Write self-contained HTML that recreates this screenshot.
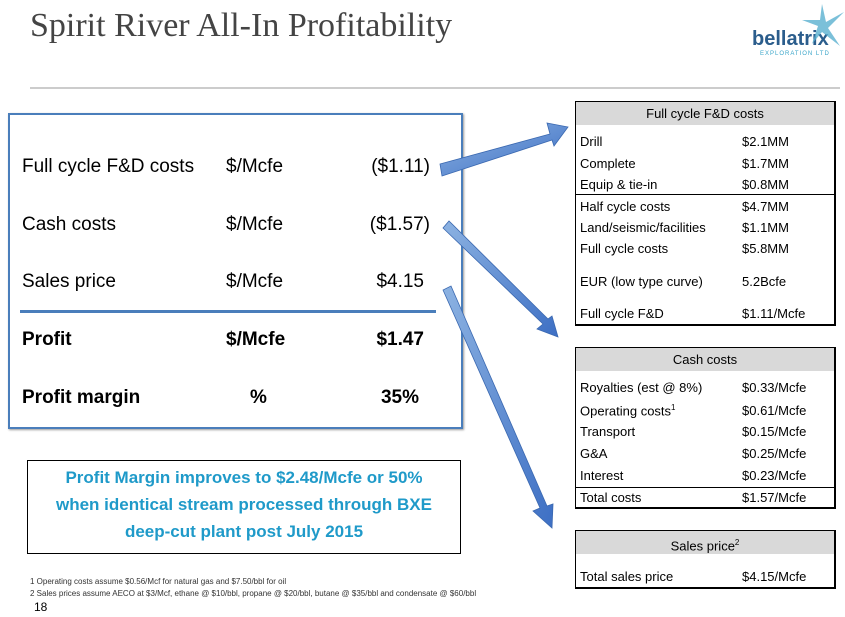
<!DOCTYPE html>
<html><head><meta charset="utf-8"><style>
body{margin:0;width:845px;height:617px;background:#fff;position:relative;overflow:hidden;font-family:"Liberation Sans",sans-serif;color:#000}
.a{position:absolute;white-space:nowrap}
.tb{position:absolute;border:1.5px solid #000;border-right-width:2px;border-bottom-width:2px;background:#fff}
.hd{position:absolute;left:0;right:0;top:0;height:23px;background:#d9d9d9;text-align:center;font-size:13px;line-height:23px}
.r{position:absolute;font-size:13px;left:4px}
.v{position:absolute;font-size:13px;left:166px}
.main{font-size:19px}
</style></head><body>
<div class="a" style="left:30px;top:7px;font-family:'Liberation Serif',serif;font-size:34px;color:#444">Spirit River All-In Profitability</div>
<div class="a" style="left:752px;top:28px;font-size:20px;color:#2b5d8c;font-weight:bold">bellatrix</div>
<div class="a" style="left:760px;top:51px;font-size:6px;color:#3aa5c9;letter-spacing:1px">EXPLORATION LTD</div>
<svg class="a" style="left:800px;top:4px" width="45" height="45"><polygon points="22,0 26,18 44,8 28,24 40,42 22,28 12,40 18,22 2,16 20,16" fill="#5ab0cf" opacity=".8"/></svg>
<div class="a" style="left:30px;top:87px;width:810px;height:2px;background:#ccc"></div>

<div class="a" style="left:8px;top:113px;width:451px;height:312px;border:2px solid #4a7ebb;box-shadow:1px 1px 2px #999"></div>
<div class="a" style="left:20px;top:310px;width:416px;height:3px;background:#4a7ebb"></div>
<div class="a main" style="left:22px;top:156px">Full cycle F&amp;D costs</div>
<div class="a main" style="left:226px;top:156px">$/Mcfe</div>
<div class="a main" style="right:415px;top:156px">($1.11)</div>
<div class="a main" style="left:22px;top:214px">Cash costs</div>
<div class="a main" style="left:226px;top:214px">$/Mcfe</div>
<div class="a main" style="right:415px;top:214px">($1.57)</div>
<div class="a main" style="left:22px;top:271px">Sales price</div>
<div class="a main" style="left:226px;top:271px">$/Mcfe</div>
<div class="a main" style="right:421px;top:271px">$4.15</div>
<div class="a main" style="left:22px;top:329px;font-weight:bold">Profit</div>
<div class="a main" style="left:226px;top:329px;font-weight:bold">$/Mcfe</div>
<div class="a main" style="right:421px;top:329px;font-weight:bold">$1.47</div>
<div class="a main" style="left:22px;top:387px;font-weight:bold">Profit margin</div>
<div class="a main" style="left:250px;top:387px;font-weight:bold">%</div>
<div class="a main" style="right:426px;top:387px;font-weight:bold">35%</div>

<div class="a" style="left:27px;top:460px;width:432px;height:89px;border:1px solid #000;text-align:center;color:#1f9ac9;font-weight:bold;font-size:17px;line-height:27px;padding-top:3px;white-space:normal">Profit Margin improves to $2.48/Mcfe or 50%<br>when identical stream processed through BXE<br>deep-cut plant post July 2015</div>

<div class="a" style="left:30px;top:577px;font-size:8px;color:#333">1 Operating costs assume $0.56/Mcf for natural gas and $7.50/bbl for oil</div>
<div class="a" style="left:30px;top:589px;font-size:8px;color:#333">2 Sales prices assume AECO at $3/Mcf, ethane @ $10/bbl, propane @ $20/bbl, butane @ $35/bbl and condensate @ $60/bbl</div>
<div class="a" style="left:34px;top:600px;font-size:12px">18</div>

<div class="tb" style="left:575px;top:101px;width:258px;height:222px">
<div class="hd">Full cycle F&amp;D costs</div>
<div class="r" style="top:32px">Drill</div><div class="v" style="top:32px">$2.1MM</div>
<div class="r" style="top:54px">Complete</div><div class="v" style="top:54px">$1.7MM</div>
<div class="r" style="top:75px">Equip &amp; tie-in</div><div class="v" style="top:75px">$0.8MM</div>
<div style="position:absolute;left:0;right:0;top:92px;height:1px;background:#000"></div>
<div class="r" style="top:97px">Half cycle costs</div><div class="v" style="top:97px">$4.7MM</div>
<div class="r" style="top:118px">Land/seismic/facilities</div><div class="v" style="top:118px">$1.1MM</div>
<div class="r" style="top:139px">Full cycle costs</div><div class="v" style="top:139px">$5.8MM</div>
<div class="r" style="top:172px">EUR (low type curve)</div><div class="v" style="top:172px">5.2Bcfe</div>
<div class="r" style="top:204px">Full cycle F&amp;D</div><div class="v" style="top:204px">$1.11/Mcfe</div>
</div>

<div class="tb" style="left:575px;top:347px;width:258px;height:159px">
<div class="hd">Cash costs</div>
<div class="r" style="top:32px">Royalties (est @ 8%)</div><div class="v" style="top:32px">$0.33/Mcfe</div>
<div class="r" style="top:55px">Operating costs<sup style="font-size:8px">1</sup></div><div class="v" style="top:55px">$0.61/Mcfe</div>
<div class="r" style="top:76px">Transport</div><div class="v" style="top:76px">$0.15/Mcfe</div>
<div class="r" style="top:98px">G&amp;A</div><div class="v" style="top:98px">$0.25/Mcfe</div>
<div class="r" style="top:120px">Interest</div><div class="v" style="top:120px">$0.23/Mcfe</div>
<div style="position:absolute;left:0;right:0;top:139px;height:1px;background:#000"></div>
<div class="r" style="top:142px">Total costs</div><div class="v" style="top:142px">$1.57/Mcfe</div>
</div>

<div class="tb" style="left:575px;top:530px;width:258px;height:56px">
<div class="hd">Sales price<sup style="font-size:8px">2</sup></div>
<div class="r" style="top:38px">Total sales price</div><div class="v" style="top:38px">$4.15/Mcfe</div>
</div>

<svg class="a" style="left:0;top:0" width="845" height="617">
<defs><linearGradient id="g" x1="0" y1="0" x2="1" y2="1"><stop offset="0" stop-color="#8db3e2"/><stop offset="1" stop-color="#3d6fc4"/></linearGradient></defs>
<g fill="url(#g)" stroke="#3a68b0" stroke-width="0.8">
<polygon points="440,164 550,134 547,123 568,127 554,146 552,140 442,176"/>
<polygon points="443,228 543,324 537,329 558,337 552,316 548,319 449,221"/>
<polygon points="443,290 540,508 533,511 552,528 553,504 547,506 451,286"/>
</g></svg>
</body></html>
